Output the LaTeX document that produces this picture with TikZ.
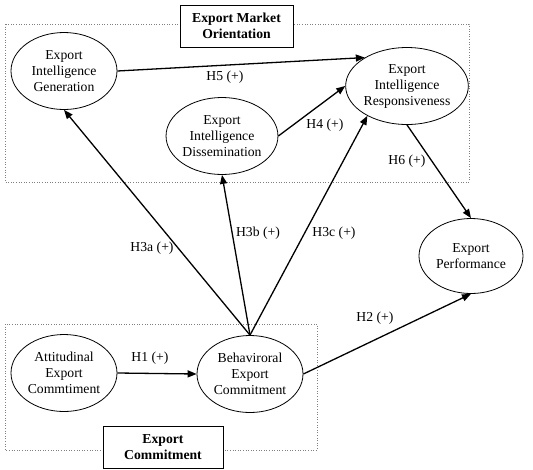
\documentclass[tikz,border=0pt]{standalone}
\usepackage{fontspec}
\setmainfont{Liberation Serif}
\usetikzlibrary{shapes.geometric,arrows.meta}
\begin{document}
\begin{tikzpicture}[x=1pt,y=-1pt,
 lat/.style={ellipse,draw,line width=0.8pt,minimum width=106pt,minimum height=77pt,inner sep=0pt,align=center,font=\fontsize{13.7}{16}\selectfont},
 hyp/.style={line width=1.3pt,-{Triangle[length=9pt,width=7pt]}},
 lbl/.style={font=\fontsize{13.7}{16}\selectfont,inner sep=0pt},
 grp/.style={draw=gray,dotted,line width=0.6pt},
 ttl/.style={draw,fill=white,line width=1pt,align=center,inner sep=0pt,font=\bfseries\fontsize{13.7}{16}\selectfont}]
\path[use as bounding box] (0,0) rectangle (533,469);
% group boxes
\draw[grp] (5,24) rectangle (469,182);
\draw[grp] (5,324) rectangle (317,450);
\node[ttl,minimum width=113pt,minimum height=42pt] (t1) at (236.5,26) {Export Market\\Orientation};
\node[ttl,minimum width=120pt,minimum height=42pt] (t2) at (163,447) {Export\\Commitment};
% latent variables
\node[lat] (eig) at (64,71) {Export\\Intelligence\\Generation};
\node[lat] (eid) at (222,136) {Export\\Intelligence\\Dissemination};
\node[lat] (eir) at (407,86) {Export\\Intelligence\\Responsiveness};
\node[lat,minimum width=104pt,minimum height=75pt] (ep) at (471,256) {Export\\Performance};
\node[lat] (att) at (64,373) {Attitudinal\\Export\\Commtiment};
\node[lat] (beh) at (250,374) {Behaviroral\\Export\\Commitment};
% hypotheses
\draw[hyp] (eig.east) -- (eir.146);
\draw[hyp] (eid.east) -- (eir.west);
\draw[hyp] (beh.north) -- (eig.south);
\draw[hyp] (beh.north) -- (eid.south);
\draw[hyp] (beh.north) -- (eir.-143);
\draw[hyp] (eir.south) -- (ep.north);
\draw[hyp] (beh.east) -- (ep.south);
\draw[hyp] (att.east) -- (beh.west);
% labels
\node[lbl] (l5) at (225,77) {H5 (+)};
\node[lbl] (l4) at (325,125) {H4 (+)};
\node[lbl] (l6) at (407,161) {H6 (+)};
\node[lbl] (l3a) at (152,248) {H3a (+)};
\node[lbl] (l3b) at (258,233) {H3b (+)};
\node[lbl] (l3c) at (334,233) {H3c (+)};
\node[lbl] (l2) at (375,318) {H2 (+)};
\node[lbl] (l1) at (150,358) {H1 (+)};
\end{tikzpicture}
\end{document}
